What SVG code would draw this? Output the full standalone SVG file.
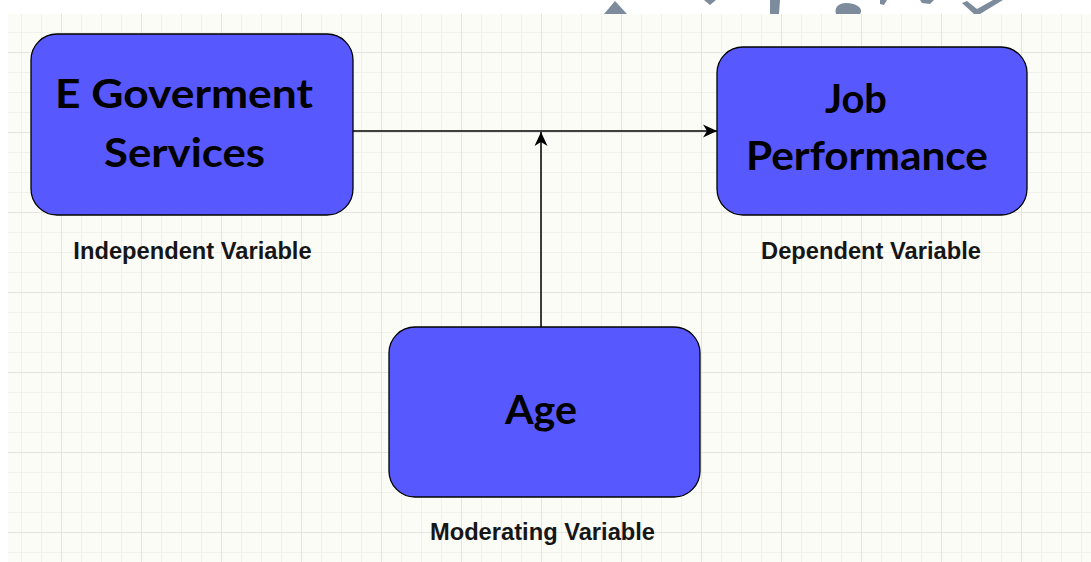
<svg xmlns="http://www.w3.org/2000/svg" width="1091" height="562" viewBox="0 0 1091 562">
  <style>
    .node rect { fill: #5858FF; stroke: #000; stroke-width: 1.3; }
    .ntext { font-family: Lato, "Open Sans", sans-serif; font-weight: bold; font-size: 40px; fill: #000; text-anchor: middle; }
    .label { font-family: "Liberation Sans", Arial, sans-serif; font-weight: bold; font-size: 23.7px; fill: #161616; text-anchor: middle; }
    .conn { stroke: #000; stroke-width: 1.5; fill: none; marker-end: url(#arrow); }
    .wm { fill: #7D8C9D; }
  </style>
  <defs>
    <pattern id="grid" patternUnits="userSpaceOnUse" x="61" y="52" width="80" height="80">
      <rect x="0" y="0" width="80" height="80" fill="#FCFCF7"/>
      <rect x="20" y="0" width="1" height="80" fill="#F1F1EB"/>
      <rect x="40" y="0" width="1" height="80" fill="#F1F1EB"/>
      <rect x="60" y="0" width="1" height="80" fill="#F1F1EB"/>
      <rect x="0" y="20" width="80" height="1" fill="#F1F1EB"/>
      <rect x="0" y="40" width="80" height="1" fill="#F1F1EB"/>
      <rect x="0" y="60" width="80" height="1" fill="#F1F1EB"/>
      <rect x="0" y="0" width="1" height="80" fill="#E4E4E1"/>
      <rect x="0" y="0" width="80" height="1" fill="#E4E4E1"/>
    </pattern>
    <marker id="arrow" viewBox="0 0 14 14" refX="14" refY="7" markerWidth="14" markerHeight="14" markerUnits="userSpaceOnUse" orient="auto">
      <path d="M0,0.5 L14,7 L0,13.5 L4,7 Z" fill="#000"/>
    </marker>
  </defs>

  <rect x="0" y="0" width="1091" height="562" fill="#FFFFFF"/>
  <rect x="8" y="14" width="1083" height="548" fill="url(#grid)"/>

  <!-- watermark fragments -->
  <g id="watermark">
    <path class="wm" d="M604,14 L615,1 L627,14 Z"/>
    <path class="wm" d="M704,0 L716,0 L710,5 Z"/>
    <path class="wm" d="M770,0 L780,0 L779,14 L770,14 Z"/>
    <path class="wm" d="M836,14 C834,8 838,3 846,3 C855,3 862,7 861,12 L860,14 Z"/>
    <path class="wm" d="M880,0 L887,0 L884,5 L880,4 Z"/>
    <path class="wm" d="M920,0 L934,0 L930,4 L922,3 Z"/>
    <path class="wm" d="M962,3 L967,1 L977,9 L993,0 L1003,0 L980,14 L974,14 Z"/>
  </g>

  <g id="connectors">
    <path class="conn" d="M353,131 H717"/>
    <path class="conn" d="M541,327 V132"/>
  </g>

  <g id="node-egov" class="node">
    <rect x="31" y="34" width="322" height="181" rx="26" ry="26"/>
    <text class="ntext" x="184" y="108" textLength="258" lengthAdjust="spacingAndGlyphs">E Goverment</text>
    <text class="ntext" x="184.5" y="167" textLength="161" lengthAdjust="spacingAndGlyphs">Services</text>
  </g>

  <g id="node-job" class="node">
    <rect x="717" y="47" width="310" height="168" rx="26" ry="26"/>
    <text class="ntext" x="856" y="113" textLength="62" lengthAdjust="spacingAndGlyphs">Job</text>
    <text class="ntext" x="867" y="170" textLength="242" lengthAdjust="spacingAndGlyphs">Performance</text>
  </g>

  <g id="node-age" class="node">
    <rect x="389" y="327" width="311" height="170" rx="26" ry="26"/>
    <text class="ntext" x="541" y="424" textLength="72" lengthAdjust="spacingAndGlyphs">Age</text>
  </g>

  <g id="labels">
    <text class="label" x="192.5" y="259">Independent Variable</text>
    <text class="label" x="871" y="259">Dependent Variable</text>
    <text class="label" x="542.5" y="540">Moderating Variable</text>
  </g>
</svg>
